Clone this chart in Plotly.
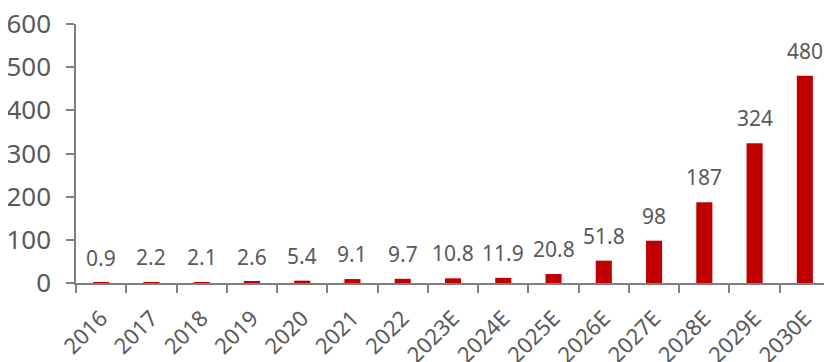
import plotly.graph_objects as go

categories = ["2016", "2017", "2018", "2019", "2020", "2021", "2022", "2023E",
              "2024E", "2025E", "2026E", "2027E", "2028E", "2029E", "2030E"]
values = [0.9, 2.2, 2.1, 2.6, 5.4, 9.1, 9.7, 10.8, 11.9, 20.8, 51.8, 98, 187, 324, 480]
labels = ["0.9", "2.2", "2.1", "2.6", "5.4", "9.1", "9.7", "10.8", "11.9", "20.8",
          "51.8", "98", "187", "324", "480"]
y_ticks = [0, 100, 200, 300, 400, 500, 600]

text_color = "#595959"
font_family = "Noto Sans, Open Sans, DejaVu Sans, sans-serif"

fig = go.Figure()
fig.add_trace(go.Bar(
    x=categories, y=values,
    marker=dict(color="#C00000", line=dict(width=0)),
    width=0.32,
    hoverinfo="skip",
))

for i, (v, t) in enumerate(zip(values, labels)):
    fig.add_annotation(x=i, y=v, text=t, showarrow=False, yanchor="bottom",
                       yshift=9, font=dict(size=21, color=text_color, family=font_family))

fig.update_layout(
    width=832, height=362,
    margin=dict(l=68, r=10, t=16, b=87),
    paper_bgcolor="white", plot_bgcolor="white",
    showlegend=False,
    font=dict(family=font_family, color=text_color),
    xaxis=dict(
        type="category",
        tickangle=-45,
        tickfont=dict(size=22, color=text_color),
        ticklabelstandoff=12,
        ticklabeloverflow="allow",
        showline=True, linecolor="#7F7F7F", linewidth=1.5,
        ticks="outside", tickson="boundaries", ticklen=8, tickcolor="#7F7F7F", tickwidth=1.5,
        showgrid=False, zeroline=False, automargin=False,
        range=[-0.5, len(categories) - 0.5],
    ),
    yaxis=dict(
        range=[0, 600],
        tickvals=y_ticks,
        tickfont=dict(size=26, color=text_color),
        ticklabelstandoff=10,
        ticklabeloverflow="allow",
        showline=True, linecolor="#7F7F7F", linewidth=1.5,
        ticks="outside", ticklen=8, tickcolor="#7F7F7F", tickwidth=1.5,
        showgrid=False, zeroline=False, automargin=False,
    ),
)

fig.write_html("out.html")
